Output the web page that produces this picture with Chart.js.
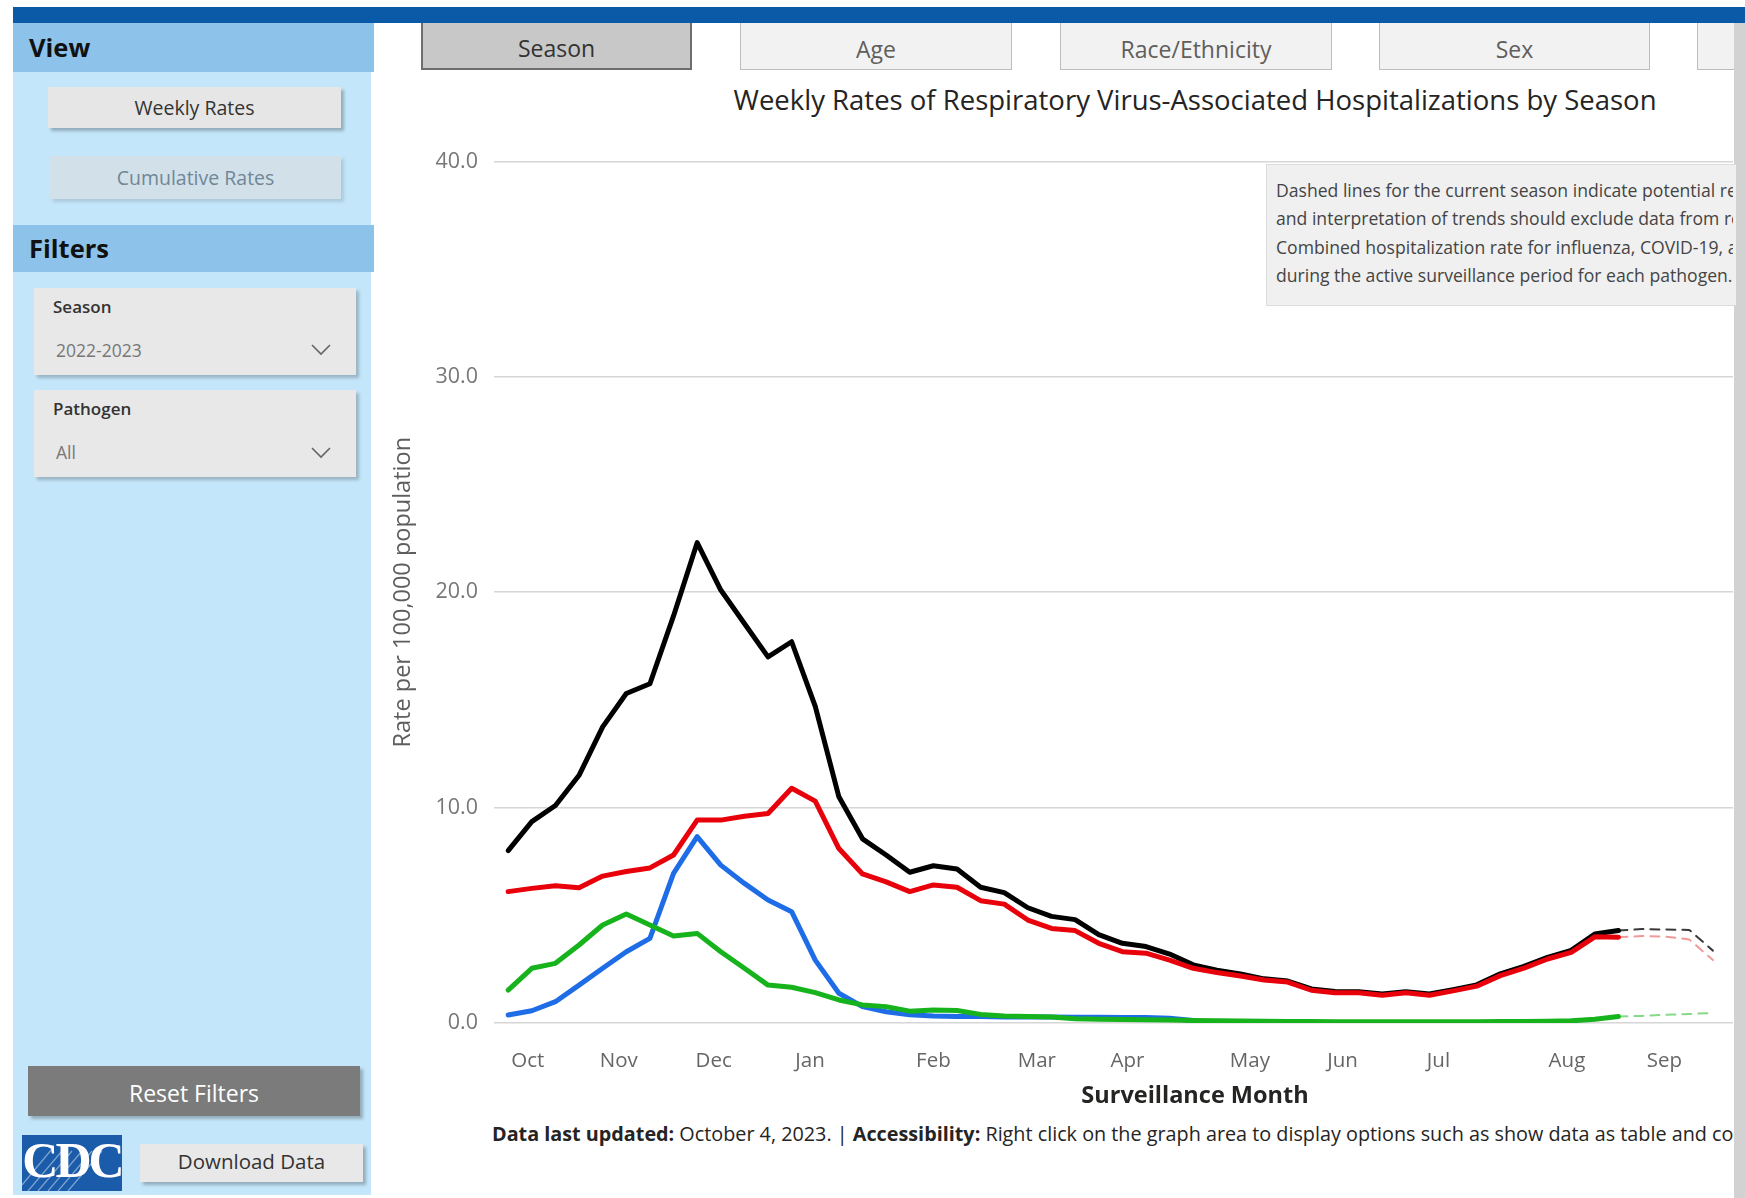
<!DOCTYPE html>
<html>
<head>
<meta charset="utf-8">
<script src="https://cdn.jsdelivr.net/npm/chart.js@4.4.1/dist/chart.umd.min.js"></script>
<style>
  body { margin: 0; width: 1745px; height: 1198px; background: #fff; position: relative; overflow: hidden;
         font-family: 'Open Sans', 'Noto Sans', sans-serif; }
  .abs { position: absolute; box-sizing: border-box; }
  .btn { display: flex; align-items: center; justify-content: center; box-shadow: 3px 3px 3px rgba(0,0,0,0.25); }
  .tab { top: 23px; height: 47px; padding-top: 5px; background: #f2f2f2; border: 1.5px solid #bdbdbd; border-top: none;
         display: flex; align-items: center; justify-content: center; font-size: 23px; color: #605e5c; }
  .drop { background: #e8e8e8; box-shadow: 3px 3px 3px rgba(0,0,0,0.22); }
  .note { white-space: nowrap; overflow: hidden; }
</style>
</head>
<body>
<div class="abs" style="left:13px;top:7px;width:1732px;height:16px;background:#0a5aa8"></div>
<div class="abs" style="left:1734px;top:23px;width:11px;height:1175px;background:#d2d2d2"></div>

<!-- left panel -->
<div class="abs" style="left:13px;top:23px;width:358px;height:1172px;background:#c4e6fa"></div>
<div class="abs" style="left:13px;top:23px;width:361px;height:49px;background:#8dc3ea"></div>
<div class="abs" style="left:29px;top:30px;font-size:25.5px;font-weight:bold;color:#111">View</div>
<div class="abs btn" style="left:48px;top:87px;width:293px;height:41px;background:#e6e6e6;font-size:19.5px;color:#333">Weekly Rates</div>
<div class="abs btn" style="left:50px;top:156px;width:291px;height:43px;background:#d2e0ea;font-size:19.5px;color:#6f8796;box-shadow:3px 3px 3px rgba(0,0,0,0.12)">Cumulative Rates</div>
<div class="abs" style="left:13px;top:225px;width:361px;height:47px;background:#8dc3ea"></div>
<div class="abs" style="left:29px;top:231px;font-size:25.5px;font-weight:bold;color:#111">Filters</div>

<div class="abs drop" style="left:34px;top:288px;width:322px;height:87px"></div>
<div class="abs" style="left:53px;top:295px;font-size:17px;font-weight:600;color:#333">Season</div>
<div class="abs" style="left:56px;top:338px;font-size:17.5px;color:#777">2022-2023</div>
<svg class="abs" style="left:311px;top:344px" width="20" height="12"><polyline points="1,1 10,10 19,1" fill="none" stroke="#666" stroke-width="1.6"/></svg>

<div class="abs drop" style="left:34px;top:390px;width:322px;height:87px"></div>
<div class="abs" style="left:53px;top:397px;font-size:17px;font-weight:600;color:#333">Pathogen</div>
<div class="abs" style="left:56px;top:440px;font-size:17.5px;color:#777">All</div>
<svg class="abs" style="left:311px;top:447px" width="20" height="12"><polyline points="1,1 10,10 19,1" fill="none" stroke="#666" stroke-width="1.6"/></svg>

<div class="abs btn" style="left:28px;top:1066px;width:332px;height:50px;padding-top:4px;background:#7b7b7b;font-size:23px;color:#fff">Reset Filters</div>
<div class="abs" style="left:22px;top:1135px;width:100px;height:56px;background:#1a5baa;overflow:hidden">
  <svg class="abs" style="left:0;top:0" width="100" height="56">
    <g stroke="#ffffff" stroke-opacity="0.45" stroke-width="1.2">
      <line x1="0" y1="50" x2="30" y2="14"/><line x1="6" y1="56" x2="40" y2="16"/>
      <line x1="16" y1="56" x2="50" y2="16"/><line x1="26" y1="56" x2="60" y2="16"/>
      <line x1="36" y1="56" x2="70" y2="16"/><line x1="46" y1="56" x2="80" y2="16"/>
    </g>
  </svg>
  <div class="abs" style="left:0;top:-4px;width:100px;text-align:center;font-family:'Liberation Serif',serif;font-weight:bold;font-size:50px;letter-spacing:-3px;color:#fff">CDC</div>
</div>
<div class="abs btn" style="left:140px;top:1144px;width:223px;height:38px;padding-bottom:4px;background:#e8e8e8;font-size:20.5px;color:#333">Download Data</div>

<!-- tabs -->
<div class="abs tab" style="left:421px;width:271px;background:#c8c8c8;border:2px solid #6e6e6e;border-top:none;color:#333">Season</div>
<div class="abs tab" style="left:740px;width:272px">Age</div>
<div class="abs tab" style="left:1060px;width:272px">Race/Ethnicity</div>
<div class="abs tab" style="left:1379px;width:271px">Sex</div>
<div class="abs tab" style="left:1697px;width:37px;border-right:none"></div>

<div class="abs" style="left:600px;top:81px;width:1190px;text-align:center;font-size:27.5px;color:#252423">Weekly Rates of Respiratory Virus-Associated Hospitalizations by Season</div>

<canvas id="chart" class="abs" style="left:370px;top:120px" width="1363" height="1000"></canvas>

<!-- note box -->
<div class="abs" style="left:1266px;top:164px;width:470px;height:142px;background:#f0f0f0;border:1px solid #dcdcdc;border-right:none"></div>
<div class="abs note" style="left:1276px;top:176px;width:457px;font-size:17.6px;line-height:28.3px;color:#444">
  Dashed lines for the current season indicate potential reporting delays<br>
  and interpretation of trends should exclude data from recent weeks.<br>
  Combined hospitalization rate for influenza, COVID-19, and RSV is only calculated<br>
  during the active surveillance period for each pathogen.
</div>

<div class="abs" style="left:895px;top:1078px;width:600px;text-align:center;font-size:23.5px;font-weight:bold;color:#252423">Surveillance Month</div>

<div class="abs note" style="left:492px;top:1120px;width:1241px;font-size:19.8px;color:#252423">
  <b>Data last updated:</b> October 4, 2023. | <b>Accessibility:</b> Right click on the graph area to display options such as show data as table and copy data.
</div>

<script>
// week index 0 = first MMWR week of the 2022-2023 season
const lastSolidWeek = 47;
const monthLabels = ['Oct', 'Nov', 'Dec', 'Jan', 'Feb', 'Mar', 'Apr', 'May', 'Jun', 'Jul', 'Aug', 'Sep'];
const monthTickWeeks = [0.83, 4.68, 8.7, 12.78, 18.0, 22.38, 26.22, 31.4, 35.32, 39.38, 44.82, 48.95];

const combined = [8.0, 9.35, 10.1, 11.5, 13.75, 15.3, 15.75, 18.9, 22.3, 20.1, 18.55, 17.0, 17.7, 14.7,
  10.5, 8.55, 7.8, 7.0, 7.3, 7.15, 6.3, 6.05, 5.35, 4.95, 4.8, 4.1, 3.7, 3.55, 3.2, 2.7, 2.45, 2.28,
  2.05, 1.95, 1.58, 1.46, 1.45, 1.35, 1.45, 1.35, 1.55, 1.77, 2.28, 2.63, 3.05, 3.37, 4.13, 4.29,
  4.36, 4.34, 4.32, 3.36];
const covid = [6.1, 6.25, 6.37, 6.28, 6.82, 7.03, 7.2, 7.8, 9.42, 9.42, 9.6, 9.73, 10.9, 10.3,
  8.1, 6.92, 6.55, 6.1, 6.41, 6.3, 5.68, 5.52, 4.78, 4.39, 4.29, 3.7, 3.31, 3.24, 2.92, 2.54, 2.34, 2.18,
  2.0, 1.9, 1.52, 1.4, 1.4, 1.29, 1.4, 1.29, 1.49, 1.71, 2.2, 2.55, 2.97, 3.28, 4.0, 3.98,
  4.04, 4.01, 3.88, 2.92];
const influenza = [0.37, 0.57, 0.99, 1.76, 2.54, 3.31, 3.93, 6.95, 8.65, 7.33, 6.48, 5.71, 5.17, 2.92,
  1.38, 0.76, 0.52, 0.38, 0.32, 0.3, 0.3, 0.28, 0.28, 0.28, 0.27, 0.27, 0.26, 0.25, 0.22, 0.12];
const rsv = [1.53, 2.54, 2.77, 3.62, 4.55, 5.06, 4.55, 4.04, 4.16, 3.31, 2.54, 1.76, 1.66, 1.41,
  1.07, 0.84, 0.76, 0.55, 0.6, 0.58, 0.4, 0.32, 0.3, 0.28, 0.2, 0.17, 0.16, 0.15, 0.14, 0.12, 0.1, 0.09,
  0.08, 0.07, 0.07, 0.06, 0.06, 0.06, 0.06, 0.06, 0.06, 0.06, 0.07, 0.07, 0.08, 0.1, 0.17, 0.3,
  0.33, 0.38, 0.42, 0.46];

const fontFamily = "'Open Sans', 'Noto Sans', sans-serif";

function solidPart(values) {
  return values.map((v, i) => ({ x: i, y: i <= lastSolidWeek ? v : null }));
}
function dashedPart(values) {
  return values.map((v, i) => ({ x: i, y: i >= lastSolidWeek ? v : null }));
}

function solidSet(label, values, color, order) {
  return { label, data: solidPart(values), borderColor: color, borderWidth: 5, order };
}
function dashedSet(label, values, color, order) {
  return { label: label + ' (provisional)', data: dashedPart(values), borderColor: color, borderWidth: 2,
    borderDash: [9, 7], order };
}

const ctx = document.getElementById('chart').getContext('2d');
const chart = new Chart(ctx, {
  type: 'line',
  data: {
    datasets: [
      solidSet('RSV', rsv, '#17b31c', 1),
      solidSet('Influenza', influenza, '#1e6de6', 2),
      solidSet('COVID-19', covid, '#e8000a', 3),
      solidSet('Combined', combined, '#000000', 4),
      dashedSet('RSV', rsv, '#86d987', 5),
      dashedSet('COVID-19', covid, '#f19a9a', 6),
      dashedSet('Combined', combined, '#3a3a3a', 7),
    ],
  },
  options: {
    responsive: false,
    animation: false,
    layout: { padding: { top: 41.4, left: 0, right: 0, bottom: 0 } },
    elements: {
      point: { radius: 0 },
      line: { tension: 0, borderJoinStyle: 'round', borderCapStyle: 'round' },
    },
    plugins: { legend: { display: false }, tooltip: { enabled: false } },
    scales: {
      x: {
        type: 'linear',
        min: -0.6,
        max: 51.85,
        grid: { display: false },
        border: { display: false },
        afterBuildTicks: (scale) => {
          scale.ticks = monthTickWeeks.map((v) => ({ value: v }));
        },
        afterFit: (scale) => {
          scale.height = 97;
        },
        ticks: {
          autoSkip: false,
          maxRotation: 0,
          padding: 18,
          color: '#666666',
          font: { family: fontFamily, size: 20.5 },
          callback: (value, index) => monthLabels[index],
        },
      },
      y: {
        min: 0,
        max: 40,
        afterFit: (scale) => {
          scale.width = 124;
        },
        grid: { drawTicks: false, color: '#d6d6d6', lineWidth: 1.5 },
        border: { display: false },
        ticks: {
          stepSize: 10,
          padding: 16,
          color: '#777777',
          font: { family: fontFamily, size: 21.5 },
          callback: (value) => value.toFixed(1),
        },
        title: {
          display: true,
          text: 'Rate per 100,000 population',
          color: '#605e5c',
          font: { family: fontFamily, size: 23.5 },
          padding: { top: 18.9, bottom: 0 },
        },
      },
    },
  },
});
</script>
</body>
</html>
